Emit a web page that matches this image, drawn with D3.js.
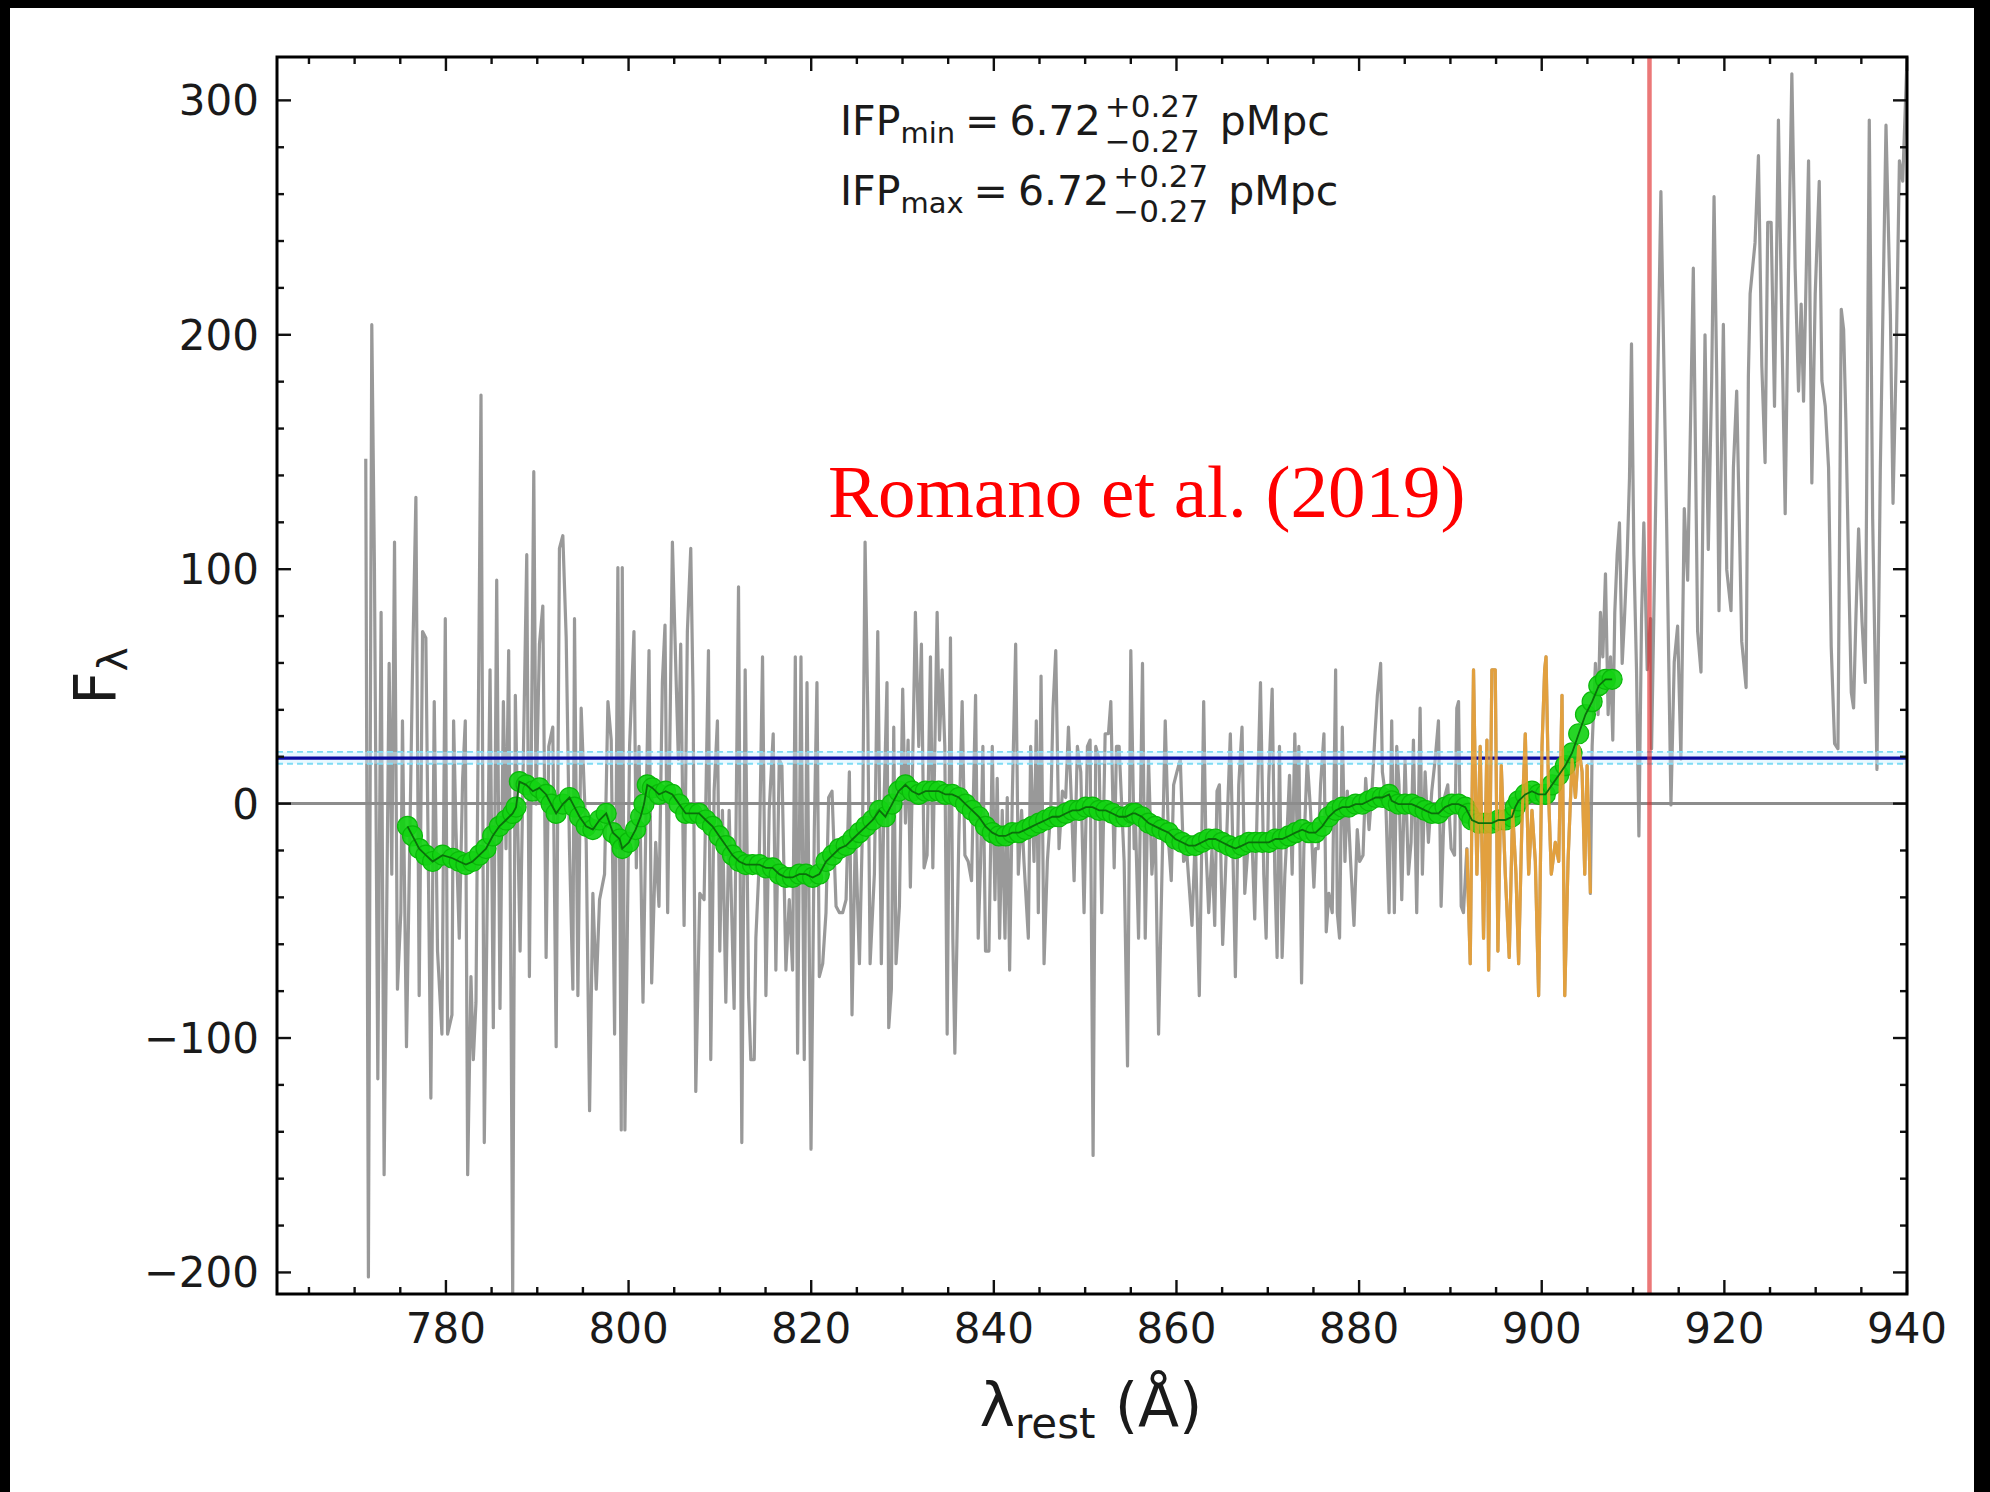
<!DOCTYPE html>
<html>
<head>
<meta charset="utf-8">
<script src="https://cdn.jsdelivr.net/npm/d3@7"></script>
<style>
  html, body { margin: 0; padding: 0; background: #000; }
  svg { display: block; }
</style>
</head>
<body>
<svg id="chart" width="1990" height="1492"></svg>
<script>
// ---- Observed spectrum (rest-frame wavelength in Å, flux density) ----
const specWave = [
  771.22, 771.51, 771.88, 772.17, 772.54, 772.90, 773.23, 773.78, 774.07, 774.37,
  774.69, 775.06, 775.24, 775.68, 776.34, 776.71, 777.07, 777.44, 777.80, 778.35,
  778.72, 779.08, 779.56, 779.93, 780.18, 780.66, 780.84, 781.10, 781.46, 781.83,
  782.12, 782.38, 782.74, 783.00, 783.29, 783.84, 784.20, 784.83, 785.19, 785.56,
  785.92, 786.29, 786.58, 786.87, 787.13, 787.31, 787.60, 788.12, 788.85, 789.14,
  789.62, 789.87, 790.24, 790.61, 790.97, 791.26, 791.70, 792.07, 792.43, 792.80,
  793.17, 793.53, 793.90, 794.08, 794.45, 794.81, 795.36, 795.73, 796.09, 796.46,
  796.82, 797.37, 797.74, 798.10, 798.47, 798.83, 799.20,
  799.31, 799.60, 800.11, 800.59, 800.85, 801.14, 801.58, 801.94, 802.24, 802.53,
  802.97, 803.33, 803.70, 803.99, 804.28, 804.80, 805.16, 805.45, 805.71, 806.08,
  806.44, 806.81, 807.06, 807.36, 807.80, 808.27, 808.75, 809.00, 809.37, 809.73,
  809.99, 810.28, 810.65, 811.01, 811.56, 812.04, 812.40, 812.77, 813.14, 813.39,
  813.76, 813.94, 814.31, 814.67, 815.04, 815.40, 815.84, 816.13, 816.50, 816.79,
  817.23, 817.60, 817.96, 818.26, 818.51, 818.88, 819.24, 819.54, 819.98, 820.34,
  820.63, 820.89, 821.26, 821.62, 821.91, 822.28, 822.72, 823.08, 823.45, 823.82,
  824.18, 824.47, 824.84, 825.28, 825.64, 825.90, 826.19, 826.45, 826.92, 827.29,
  827.68, 827.94, 828.30, 828.49, 828.78, 829.04, 829.29, 829.66, 830.02, 830.32,
  830.61, 830.86, 831.41, 831.78, 832.07, 832.36, 832.69, 833.06, 833.32, 833.79,
  834.05, 834.34, 834.63, 834.89, 835.25, 835.51, 835.73, 836.17, 836.53, 836.83,
  837.19, 837.56, 838.00, 838.29, 838.55, 838.80, 839.09, 839.46, 839.83, 840.12,
  840.37, 840.63, 840.92, 841.22, 841.47, 841.73, 842.02, 842.39, 842.68, 843.04,
  843.30, 843.78, 844.03, 844.40, 844.65, 844.87, 845.17, 845.50, 845.86, 846.23,
  846.48, 846.78, 847.14, 847.51, 847.87, 848.17, 848.53, 848.79, 849.15, 849.52,
  849.88, 850.25, 850.54, 850.87, 851.16, 851.53, 851.82, 852.19, 852.55, 852.81,
  853.18, 853.43, 853.72, 854.27, 854.64, 855.00, 855.37,
  855.48, 855.85, 856.28, 856.58, 856.94, 857.31, 857.67, 858.04, 858.41, 858.77,
  859.14, 859.43, 859.69, 860.05, 860.42, 860.78, 861.15, 861.70, 862.06, 862.50,
  862.72, 862.98, 863.23, 863.53, 863.89, 864.19, 864.44, 864.70, 865.06, 865.36,
  865.65, 865.90, 866.16, 866.45, 866.82, 867.18, 867.48, 867.92, 868.28, 868.57,
  868.83, 869.20, 869.56, 869.82, 870.11, 870.48, 870.77, 871.02, 871.28, 871.57,
  871.87, 872.12, 872.38, 872.67, 872.96, 873.22, 873.40, 873.70, 873.95, 874.32,
  874.68, 875.05, 875.23, 875.52, 875.78, 876.15, 876.40, 876.69, 877.06, 877.43,
  877.61, 877.86, 878.16, 878.45, 878.71, 879.07, 879.44, 879.80, 880.06, 880.43,
  880.72, 881.09, 881.45, 881.74, 882.00, 882.36, 882.55, 882.91, 883.28,
  883.57, 883.86, 884.12, 884.37, 884.67, 885.03, 885.40, 885.69, 885.95, 886.31,
  886.68, 886.93, 887.23, 887.59, 887.96, 888.33, 888.69, 888.98, 889.35, 889.71,
  890.08, 890.45, 890.70, 890.89, 891.18, 891.43, 891.80,
  892.17, 892.53, 892.90, 893.26, 893.63, 894.00, 894.18, 894.54, 894.91, 895.20,
  895.57, 896.01, 896.44, 896.81, 897.18, 897.47, 897.83, 898.20, 898.57, 898.93,
  899.30, 899.66, 900.03, 900.32, 900.47, 900.76, 901.05, 901.49, 901.86, 902.22,
  902.52, 902.88, 903.32, 903.69, 904.05, 904.42, 904.71, 904.97,
  905.33, 905.52, 905.88, 906.17, 906.43, 906.69, 906.98, 907.27, 907.53, 907.78,
  908.00, 908.26, 908.51, 908.81, 909.06, 909.36, 909.61, 909.83, 910.09, 910.38,
  910.64, 910.93, 911.18, 911.55, 911.92,
  912.03, 913.05, 913.67, 914.15, 914.51, 914.88, 915.24, 915.61, 915.98, 916.60,
  917.07, 917.44, 917.88, 918.24, 918.61, 918.87, 919.16, 919.41, 919.89, 920.26,
  920.73, 920.99, 921.35, 921.90, 922.38, 922.63, 922.82, 923.36, 923.73, 924.10,
  924.46, 924.75, 925.12, 925.49, 925.92, 926.29, 926.66, 927.02, 927.39, 927.75,
  928.12, 928.41, 928.67, 929.22, 929.58, 929.95, 930.39, 930.68, 931.05, 931.41,
  931.70, 932.07, 932.44, 932.80, 933.06, 933.31, 933.61, 933.90, 934.15, 934.41,
  934.70, 935.07, 935.43, 935.87, 936.24, 936.71, 937.08, 937.70, 938.18, 938.47,
  938.80, 939.17, 939.53, 940.00, 940.30
];
const specFlux = [
  147.1, -201.9, 204.3, 100.7, -117.4, 81.6, -158.3, 59.8, -30.1, 111.6,
  -79.2, -46.5, 35.3, -103.7, 57.1, 130.7, -81.9, 73.4, 70.7, -125.6,
  43.5, -62.9, -98.3, 78.9, -98.3, -90.1, 35.3, -11.1, -57.4, 10.8,
  35.3, -158.3, -73.8, -109.2, -84.7, 174.3, -144.6, 57.1, -95.6, 95.3,
  -87.4, 43.5, -19.2, 65.3, -84.7, -210.0, 46.2, -62.9, 106.2, -73.8,
  141.6, -0.2, 68.0, 84.3, -65.6, 24.4, 32.6, -103.7, 108.9, 114.3,
  70.7, -19.2, -79.2, 78.9, -81.9, 40.7, -16.5, -131.0, -38.3, -79.2,
  -41.0, -30.1, 43.5, 27.1, -98.3, 100.7, -139.2,
  100.7, -139.2, 24.4, 73.4, -27.4, 24.4, -84.7, 2.6, 65.3, -76.5,
  -16.5, -43.8, 51.6, 76.2, -46.5, 111.6, 59.8, 18.9, 68.0, -52.0,
  73.4, 108.9, 46.2, -122.8, -38.3, -41.0, 65.3, -109.2, 5.3, 35.3,
  -62.9, -2.9, -84.7, -2.9, -87.4, 92.5, -144.6, 57.1, -81.9, -109.2,
  -109.2, -57.4, -24.7, 62.6, -81.9, -2.9, 29.8, -71.0, 18.9, 16.2,
  -71.0, -41.0, -71.0, 62.6, -106.5, 62.6, -109.2, 51.6, -147.4, -11.1,
  51.6, -73.8, -68.3, -46.5, 2.6, 5.3, -43.8, -46.5, -46.5, -41.0,
  13.5, -90.1, -11.1, -68.3, -5.6, 111.6, 40.7, -68.3, -30.1, 73.4,
  -68.3, -5.6, 51.6, -95.6, -79.2, 32.6, -68.3, -43.8, 48.9, -8.3,
  27.1, -35.6, 81.6, 24.4, 68.0, -27.4, -22.0, 62.6, -27.4, 81.6,
  27.1, 57.1, 24.4, -98.3, 70.7, -57.4, -106.5, -13.8, 43.5, -22.0,
  -24.7, -32.9, 46.2, -57.4, -24.7, 24.4, -62.9, -62.9, 24.4, -41.0,
  10.8, -57.4, -2.9, -57.4, 2.6, -71.0, 2.6, 68.0, -30.1, -2.9,
  -24.7, -57.4, 24.4, -24.7, 35.3, -46.5, 54.4, -68.3, -24.7, -2.9,
  40.7, 65.3, -19.2, 5.3, 2.6, 32.6, -2.9, -32.9, 24.4, 13.5,
  -46.5, 24.4, 27.1, -150.1, 24.4, 18.9, -46.5, 29.8, 29.8, 43.5,
  -27.4, 24.4, 24.4, -24.7, -111.9, 65.3, -19.2,
  -2.9, -57.4, 59.8, -57.4, 18.9, -30.1, -8.3, -98.3, -30.1, 35.3,
  -16.5, -32.9, 8.0, 13.5, 18.9, -24.7, -22.0, -52.0, -13.8, -81.9,
  -30.1, 43.5, -19.2, -46.5, -19.2, -52.0, 5.3, 8.0, -60.1, -30.1,
  2.6, 29.8, -16.5, -73.8, 8.0, 32.6, -38.3, -13.8, -16.5, -49.2,
  -2.9, 51.6, -30.1, -57.4, 10.8, 48.9, -30.1, -65.6, 24.4, -65.6,
  -30.1, -11.1, 12.1, -30.1, 29.8, -13.8, 24.4, -76.5, -19.2, 18.9,
  -2.9, -35.6, -19.2, -19.2, 8.0, 29.8, -54.7, -38.3, -46.5, 57.1,
  -46.5, -57.4, 32.6, -24.7, 5.3, -24.7, -52.0, -11.1, -24.7, -22.0,
  10.8, -11.1, 8.0, 29.8, 46.2, 59.8, 13.5, 2.6, -46.5,
  35.3, -46.5, 24.4, 8.0, -41.0, 18.9, -30.1, -16.5, 27.1, -46.5,
  40.7, -30.1, 13.5, -16.5, 5.3, 18.9, 35.3, -43.8, 2.6, 8.0,
  -19.2, -22.0, 40.7, 43.5, -43.8, -46.5, -19.2,
  -68.3, 57.1, -30.1, 24.4, -57.4, 27.1, -71.0, 57.1, 57.1, -62.9,
  16.2, -30.1, -65.6, -2.9, -30.1, -68.3, -8.3, 29.8, -30.1, -2.9,
  -24.7, -81.9, 24.4, 57.1, 62.6, 2.6, -30.1, -16.5, -24.7, 46.2,
  -81.9, -24.7, 18.9, 2.6, 24.4, 13.5, -30.1, 16.2,
  -38.3, 24.4, 59.8, 38.0, 81.6, 62.6, 98.0, 38.0, 62.6, 27.1,
  81.6, 106.2, 119.8, 59.8, 78.9, 106.2, 138.9, 196.1, 106.2, 57.1,
  -13.8, 78.9, 119.8, 57.1, 78.9,
  23.4, 261.1, 121.5, -0.6, 60.4, 75.7, 19.0, 125.9, 95.3, 228.4,
  73.5, 56.1, 200.0, 108.4, 180.4, 258.9, 182.6, 82.3, 204.4, 99.7,
  82.3, 143.3, 176.0, 69.2, 49.5, 182.6, 217.5, 239.3, 276.4, 186.9,
  145.5, 248.0, 248.0, 169.5, 291.6, 204.4, 123.7, 226.2, 311.3, 228.4,
  176.0, 213.1, 171.7, 274.2, 136.8, 217.5, 265.5, 180.4, 169.5, 143.3,
  67.0, 25.6, 23.4, 210.9, 202.2, 163.0, 99.7, 47.4, 40.8, 80.1,
  117.2, 77.9, 51.7, 291.6, 121.5, 14.6, 143.3, 289.4, 208.7, 128.1,
  186.9, 274.2, 265.5, 317.8, 250.0
];

// Wavelength window highlighted in orange
const highlightRange = [892.0, 905.1];

// ---- Smoothed flux (green markers) ----
const smoothWave = [
  775.79, 776.34, 777.07, 777.80, 778.54, 779.63, 780.73, 781.46, 782.19, 782.92,
  783.66, 784.39, 785.12, 785.85, 786.58, 787.31, 787.68, 788.04, 788.78, 789.51,
  790.24, 790.97, 791.52, 792.07, 792.80, 793.53, 794.08, 794.63, 795.36, 796.09,
  796.82, 797.55, 798.29, 799.02, 799.31, 800.04, 800.77, 801.32, 801.69, 802.05,
  802.60, 803.33, 804.06, 804.80, 805.53, 806.26, 806.99, 807.72, 808.45, 809.19,
  809.92, 810.65, 811.38, 812.11, 812.84, 813.57, 814.31, 815.04, 815.77, 816.50,
  817.23, 817.96, 818.70, 819.43, 820.16, 820.89, 821.62, 822.35, 823.08, 823.82,
  824.55, 825.28, 826.01, 826.74, 827.47, 828.12, 828.85, 829.58, 830.32, 831.05,
  831.78, 832.51, 833.24, 833.97, 834.71, 835.44, 836.17, 836.90, 837.63, 838.36,
  839.09, 839.83, 840.56, 841.29, 842.02, 842.75, 843.48, 844.21, 844.95, 845.68,
  846.41, 847.14, 847.87, 848.60, 849.34, 850.07, 850.80, 851.53, 852.26, 852.99,
  853.72, 854.46, 855.19, 855.48, 856.21, 856.94, 857.67, 858.41, 859.14, 859.87,
  860.60, 861.33, 862.06, 862.80, 863.53, 864.26, 864.99, 865.72, 866.45, 867.18,
  867.92, 868.65, 869.38, 870.11, 870.84, 871.57, 872.30, 873.04, 873.77, 874.50,
  875.23, 875.96, 876.69, 877.43, 878.16, 878.89, 879.62, 880.35, 881.09, 881.82,
  882.55, 883.28, 883.57, 884.30, 885.03, 885.76, 886.50, 887.23, 887.96, 888.69,
  889.42, 890.15, 890.89, 891.62, 891.98, 892.35, 893.08, 893.81, 894.54, 895.27,
  896.01, 896.74, 897.10, 897.47, 898.20, 898.93, 899.66, 900.40, 901.13, 901.86,
  902.59, 903.32, 904.05, 904.79, 905.52, 906.25, 906.98, 907.71
];
const smoothFlux = [
  -9.7, -13.8, -19.2, -22.0, -24.7, -22.0, -23.3, -24.7, -26.0, -24.7,
  -22.0, -19.2, -13.8, -9.7, -7.0, -4.2, -1.5, 9.4, 8.0, 5.3,
  6.7, 3.9, -0.2, -4.2, -0.2, 2.6, -1.5, -5.6, -9.7, -11.1,
  -7.0, -4.2, -12.4, -15.1, -19.2, -16.5, -11.1, -5.6, -0.2, 8.0,
  6.7, 3.9, 5.3, 3.9, -0.2, -4.2, -4.2, -4.2, -7.0, -9.7,
  -13.8, -17.9, -22.0, -24.7, -26.0, -26.0, -26.0, -27.4, -27.4, -30.1,
  -31.5, -31.5, -30.1, -30.1, -31.5, -30.1, -24.7, -22.0, -19.2, -17.9,
  -15.1, -12.4, -9.7, -7.0, -2.9, -5.6, -0.2, 5.3, 8.0, 5.3,
  3.9, 5.3, 5.3, 5.3, 3.9, 3.9, 2.6, -0.2, -2.9, -5.6,
  -9.7, -12.4, -13.8, -13.8, -12.4, -12.4, -11.1, -9.7, -8.3, -7.0,
  -5.6, -5.6, -4.2, -2.9, -2.9, -1.5, -1.5, -2.9, -2.9, -4.2,
  -5.6, -5.6, -4.2, -4.2, -5.6, -8.3, -9.7, -11.1, -12.4, -15.1,
  -16.5, -17.9, -17.9, -16.5, -15.1, -15.1, -16.5, -17.9, -19.2, -17.9,
  -16.5, -16.5, -16.5, -16.5, -15.1, -15.1, -13.8, -12.4, -11.1, -12.4,
  -12.4, -9.7, -5.6, -2.9, -1.5, -1.5, -0.2, -0.2, 1.2, 2.6,
  2.6, 3.9, 1.2, -0.2, -0.2, -0.2, -1.5, -2.9, -4.2, -4.2,
  -1.5, -0.2, -0.2, -1.5, -4.2, -7.0, -8.3, -8.3, -8.3, -7.0,
  -7.0, -5.6, -1.5, 1.2, 3.9, 5.3, 3.9, 3.9, 8.0, 12.1,
  16.2, 21.6, 29.8, 38.0, 43.5, 50.3, 53.0, 53.0
];

// ---- Reference levels ----
const meanFlux = 19.4;             // solid navy level
const meanFluxBand = [17.0, 22.1]; // dashed cyan bounds
const lymanLimit = 911.8;          // Å

// ---- Axes ----
const xDomain = [761.5, 940];
const yDomain = [-209.2, 318.5];
const xMajorTicks = [780, 800, 820, 840, 860, 880, 900, 920, 940];
const yMajorTicks = [-200, -100, 0, 100, 200, 300];

// ---- Annotation text ----
const ifpValue = "6.72", ifpUp = "+0.27", ifpDown = "\u22120.27", ifpUnit = "pMpc";
const creditText = "Romano et al. (2019)";

// ---- Layout ----
const W = 1990, H = 1492;
const plot = { left: 277, right: 1907, top: 57, bottom: 1294 };

const svg = d3.select("#chart");
// black surround with white canvas
svg.append("rect").attr("x", 0).attr("y", 0).attr("width", W).attr("height", H).attr("fill", "#000");
svg.append("rect").attr("x", 10).attr("y", 8).attr("width", W - 10 - 16).attr("height", H - 8).attr("fill", "#fff");

const x = d3.scaleLinear().domain(xDomain).range([plot.left, plot.right]);
const y = d3.scaleLinear().domain(yDomain).range([plot.bottom, plot.top]);

svg.append("defs").append("clipPath").attr("id", "plotClip")
  .append("rect").attr("x", plot.left).attr("y", plot.top)
  .attr("width", plot.right - plot.left).attr("height", plot.bottom - plot.top);

const inner = svg.append("g").attr("clip-path", "url(#plotClip)");

const spectrum = specWave.map((w, i) => ({ w, f: specFlux[i] }));
const smooth = smoothWave.map((w, i) => ({ w, f: smoothFlux[i] }));
const line = d3.line().x(d => x(d.w)).y(d => y(d.f));

// spectrum in grey
inner.append("path").datum(spectrum)
  .attr("d", line).attr("fill", "none")
  .attr("stroke", "#7c7c7c").attr("stroke-opacity", 0.78)
  .attr("stroke-width", 3.2).attr("stroke-linejoin", "round");

// zero level
inner.append("line")
  .attr("x1", plot.left).attr("x2", plot.right)
  .attr("y1", y(0)).attr("y2", y(0))
  .attr("stroke", "#8c8c8c").attr("stroke-width", 3);

// mean level with its band
inner.append("rect")
  .attr("x", plot.left).attr("width", plot.right - plot.left)
  .attr("y", y(meanFluxBand[1])).attr("height", y(meanFluxBand[0]) - y(meanFluxBand[1]))
  .attr("fill", "#cfefff").attr("opacity", 0.45);
meanFluxBand.forEach(v => {
  inner.append("line")
    .attr("x1", plot.left).attr("x2", plot.right)
    .attr("y1", y(v)).attr("y2", y(v))
    .attr("stroke", "#7fdcf5").attr("stroke-width", 1.8)
    .attr("stroke-dasharray", "6,4");
});
inner.append("line")
  .attr("x1", plot.left).attr("x2", plot.right)
  .attr("y1", y(meanFlux)).attr("y2", y(meanFlux))
  .attr("stroke", "#0a0aa0").attr("stroke-width", 3.2);

// smoothed flux markers
inner.append("g").selectAll("circle").data(smooth).join("circle")
  .attr("cx", d => x(d.w)).attr("cy", d => y(d.f)).attr("r", 10)
  .attr("fill", "#14d214").attr("stroke", "#0ab80a").attr("stroke-width", 1.2)
  .attr("fill-opacity", 0.92);

// highlighted window in orange
const highlighted = spectrum.filter(d => d.w >= highlightRange[0] - 0.4 && d.w <= highlightRange[1] + 0.3);
inner.append("path").datum(highlighted)
  .attr("d", line).attr("fill", "none")
  .attr("stroke", "#f2a12a").attr("stroke-opacity", 0.82)
  .attr("stroke-width", 3.2).attr("stroke-linejoin", "round");

// smoothed flux line
inner.append("path").datum(smooth)
  .attr("d", line).attr("fill", "none")
  .attr("stroke", "#0b6e0b").attr("stroke-width", 1.8);

// Lyman limit
inner.append("line")
  .attr("x1", x(lymanLimit)).attr("x2", x(lymanLimit))
  .attr("y1", plot.top).attr("y2", plot.bottom)
  .attr("stroke", "#e03030").attr("stroke-opacity", 0.65).attr("stroke-width", 4.5);

// ---- ticks (inward, all four sides) ----
const tickColor = "#111";
const xMinor = d3.range(765, 941, 5).filter(v => !xMajorTicks.includes(v));
const yMinor = d3.range(-200, 319, 20).filter(v => !yMajorTicks.includes(v));
const ticks = svg.append("g").attr("stroke", tickColor).attr("stroke-width", 2.4);
function xTick(v, len) {
  ticks.append("line").attr("x1", x(v)).attr("x2", x(v)).attr("y1", plot.bottom).attr("y2", plot.bottom - len);
  ticks.append("line").attr("x1", x(v)).attr("x2", x(v)).attr("y1", plot.top).attr("y2", plot.top + len);
}
function yTick(v, len) {
  ticks.append("line").attr("y1", y(v)).attr("y2", y(v)).attr("x1", plot.left).attr("x2", plot.left + len);
  ticks.append("line").attr("y1", y(v)).attr("y2", y(v)).attr("x1", plot.right).attr("x2", plot.right - len);
}
xMajorTicks.forEach(v => xTick(v, 14));
xMinor.forEach(v => xTick(v, 7));
yMajorTicks.forEach(v => yTick(v, 14));
yMinor.forEach(v => yTick(v, 7));

// frame
svg.append("rect")
  .attr("x", plot.left).attr("y", plot.top)
  .attr("width", plot.right - plot.left).attr("height", plot.bottom - plot.top)
  .attr("fill", "none").attr("stroke", "#000").attr("stroke-width", 3);

// tick labels
const font = "'DejaVu Sans', sans-serif";
const fmt = v => (v < 0 ? "\u2212" + Math.abs(v) : String(v));
svg.append("g").selectAll("text").data(xMajorTicks).join("text")
  .attr("x", d => x(d)).attr("y", plot.bottom + 49)
  .attr("text-anchor", "middle").attr("font-family", font).attr("font-size", 42)
  .attr("fill", "#1a1a1a").text(fmt);
svg.append("g").selectAll("text").data(yMajorTicks).join("text")
  .attr("x", plot.left - 18).attr("y", d => y(d) + 15)
  .attr("text-anchor", "end").attr("font-family", font).attr("font-size", 42)
  .attr("fill", "#1a1a1a").text(fmt);

// axis labels
const xl = svg.append("text").attr("x", 1091).attr("y", 1426)
  .attr("text-anchor", "middle").attr("font-family", font).attr("font-size", 60).attr("fill", "#1a1a1a");
xl.append("tspan").text("\u03bb");
xl.append("tspan").attr("font-size", 42).attr("dy", 12).text("rest");
xl.append("tspan").attr("dy", -12).text(" (\u00c5)");

const yl = svg.append("text").attr("transform", "translate(116,676) rotate(-90)")
  .attr("text-anchor", "middle").attr("font-family", font).attr("font-size", 58).attr("fill", "#1a1a1a");
yl.append("tspan").text("F");
yl.append("tspan").attr("font-size", 41).attr("dy", 11).text("\u03bb");

// IFP annotations
function ifpLine(baseY, subText) {
  const g = svg.append("g").attr("font-family", font).attr("fill", "#1a1a1a");
  const t = g.append("text").attr("x", 840).attr("y", baseY).attr("font-size", 41);
  t.append("tspan").text("IFP");
  t.append("tspan").attr("font-size", 29).attr("dy", 8).text(subText);
  t.append("tspan").attr("dy", -8).attr("dx", 10).text("=");
  t.append("tspan").attr("dx", 10).text(ifpValue);
  const b = t.node().getBBox();
  const sx = b.x + b.width + 4;
  const up = g.append("text").attr("x", sx).attr("y", baseY - 18).attr("font-size", 31).text(ifpUp);
  const dn = g.append("text").attr("x", sx).attr("y", baseY + 17).attr("font-size", 31).text(ifpDown);
  const sw = Math.max(up.node().getBBox().width, dn.node().getBBox().width);
  g.append("text").attr("x", sx + sw + 20).attr("y", baseY).attr("font-size", 41).text(ifpUnit);
}
ifpLine(135, "min");
ifpLine(205, "max");

// credit
svg.append("text").attr("x", 828).attr("y", 517)
  .attr("font-family", "'Liberation Serif', 'Times New Roman', serif")
  .attr("font-size", 75).attr("fill", "#ff0000").text(creditText);
</script>
</body>
</html>
